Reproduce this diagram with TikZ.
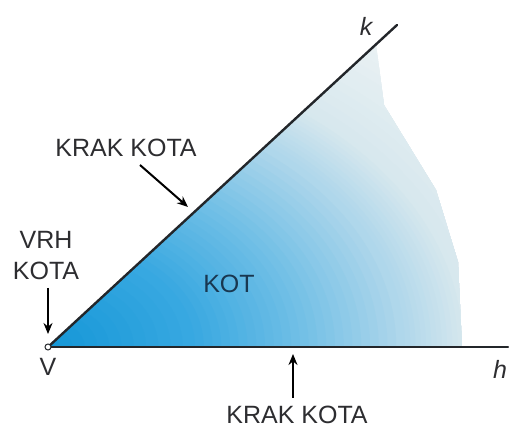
\documentclass[tikz,border=0pt]{standalone}
\usepackage{fontspec}
\setmainfont{Liberation Sans}
\usetikzlibrary{arrows.meta}
\definecolor{rayc}{RGB}{35,38,42}
\definecolor{labc}{RGB}{45,45,48}
\definecolor{kotc}{RGB}{25,55,80}
\tikzset{
  ray/.style={draw=rayc, line width=2.4pt, line cap=round},
  lab/.style={text=labc, font=\fontsize{25}{31}\selectfont, align=center, inner sep=0pt},
  var/.style={text=labc, font=\fontsize{25}{27}\selectfont\itshape, inner sep=0pt},
  pointer/.style={draw=black, line width=2pt, -{Stealth[length=11pt,width=9pt]}},
}
% one band of the fading: from t0 to t1, colours (R0,G0,B0) -> (R1,G1,B1)
\newcommand\fadeseg[8]{%
  \foreach \k in {12,11,...,1}{%
    \pgfmathsetmacro\tt{#1+(#2-#1)*\k/12}%
    \pgfmathtruncatemacro\RR{#3+(#6-#3)*\k/12}%
    \pgfmathtruncatemacro\GG{#4+(#7-#4)*\k/12}%
    \pgfmathtruncatemacro\BB{#5+(#8-#5)*\k/12}%
    \pgfmathsetmacro\rx{420*\tt}%
    \pgfmathsetmacro\ry{300*\tt}%
    \definecolor{ringc}{RGB}{\RR,\GG,\BB}%
    \fill[ringc] (V) ellipse [x radius=\rx pt, y radius=\ry pt];
  }%
}
\begin{document}
\begin{tikzpicture}[x=1pt,y=-1pt]
\useasboundingbox (0,0) rectangle (517,430);
\coordinate (V) at (48,347);
\coordinate (K) at (397,25);
\coordinate (H) at (508,347);
% shaded angle region
\begin{scope}
  \clip (48,347) -- (376,44) -- (384,105) -- (436,190) -- (458,262) -- (462,347) -- cycle;
  \fadeseg{1.00}{1.30}{215}{232}{238}{235}{242}{244}
  \fadeseg{0.85}{1.00}{175}{215}{235}{215}{232}{238}
  \fadeseg{0.60}{0.85}{110}{190}{230}{175}{215}{235}
  \fadeseg{0.35}{0.60}{55}{168}{225}{110}{190}{230}
  \fadeseg{0.00}{0.35}{20}{150}{215}{55}{168}{225}
\end{scope}
% rays
\draw[ray] (V) -- (K);
\draw[ray] (V) -- (H);
\draw[draw=rayc, fill=white, line width=1pt] (V) circle (3pt);
% labels
\node[var] (k) at (366,26) {k};
\node[var] (h) at (500,369) {h};
\node[lab] (v) at (48,367) {V};
\node[lab] (kot) at (229,284) {\color{kotc}KOT};
\node[lab] (kk1) at (126,148) {KRAK KOTA};
\node[lab] (vrh) at (46,256) {VRH\\KOTA};
\node[lab] (kk2) at (297,415) {KRAK KOTA};
% pointers
\coordinate (a1s) at (140,165);
\coordinate (a1e) at (188,207);
\coordinate (a2s) at (48,288);
\coordinate (a2e) at (48,334);
\coordinate (a3s) at (293,398);
\coordinate (a3e) at (293,354);
\draw[pointer] (a1s) -- (a1e);
\draw[pointer] (a2s) -- (a2e);
\draw[pointer] (a3s) -- (a3e);
\end{tikzpicture}
\end{document}
